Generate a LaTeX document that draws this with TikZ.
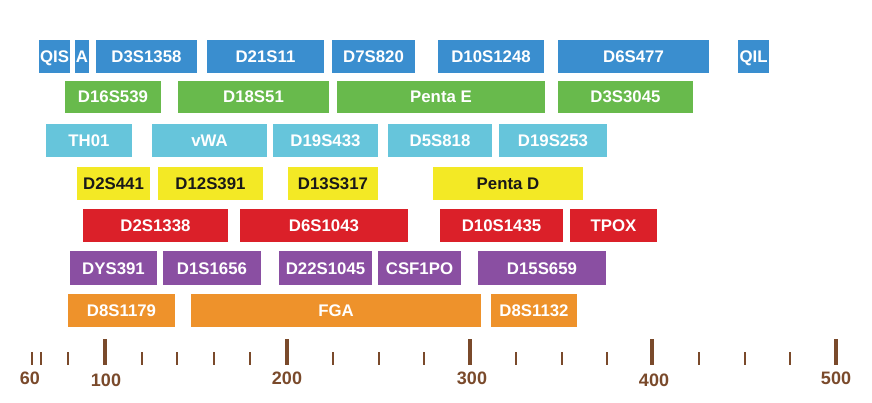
\documentclass[tikz,border=0pt]{standalone}
\usepackage{fontspec}
\setmainfont{Liberation Sans}
\definecolor{cblue}{HTML}{3A8ECF}
\definecolor{cgreen}{HTML}{68BA4C}
\definecolor{clight}{HTML}{66C5DB}
\definecolor{cyellow}{HTML}{F3E925}
\definecolor{cred}{HTML}{DB2029}
\definecolor{cpurple}{HTML}{8A4FA2}
\definecolor{corange}{HTML}{EE922B}
\definecolor{cbrown}{HTML}{7A4A2B}
\tikzset{
  locus/.style={inner sep=0pt, outer sep=0pt, font=\fontsize{16.8}{17}\selectfont\bfseries, text=white,
    text height=12pt, text depth=0pt},
  tickmaj/.style={draw=cbrown, line width=3.2pt},
  tickmin/.style={draw=cbrown, line width=1.6pt},
  axlab/.style={font=\fontsize{18}{18}\selectfont\bfseries, text=cbrown, inner sep=0pt,
    text height=12.9pt, text depth=0pt}
}
% \lbox{name}{x1}{y1}{x2}{y2}{colour}{text}
\newcommand{\lbox}[7]{%
  \pgfmathsetmacro{\bw}{#4-#2}\pgfmathsetmacro{\bh}{#5-#3}%
  \node[locus, fill=#6, minimum width=\bw pt, minimum height=\bh pt] (#1) at ({(#2+#4)/2},{(#3+#5)/2}) {#7};}
\newcommand{\ybox}[6]{%
  \pgfmathsetmacro{\bw}{#4-#2}\pgfmathsetmacro{\bh}{#5-#3}%
  \node[locus, fill=cyellow, text=black!90, minimum width=\bw pt, minimum height=\bh pt] (#1) at ({(#2+#4)/2},{(#3+#5)/2}) {#6};}
\begin{document}
\begin{tikzpicture}[x=1pt,y=-1pt]
\useasboundingbox[fill=white] (0,0) rectangle (872,403);
% row 1
\lbox{qis}{39}{40}{70}{73}{cblue}{QIS}
\lbox{a}{75}{40}{89}{73}{cblue}{A}
\lbox{d3s1358}{96}{40}{197}{73}{cblue}{D3S1358}
\lbox{d21s11}{207}{40}{324}{73}{cblue}{D21S11}
\lbox{d7s820}{332}{40}{415}{73}{cblue}{D7S820}
\lbox{d10s1248}{438}{40}{544}{73}{cblue}{D10S1248}
\lbox{d6s477}{558}{40}{709}{73}{cblue}{D6S477}
\lbox{qil}{738}{40}{769}{73}{cblue}{QIL}
% row 2
\lbox{d16s539}{65}{81}{161}{113}{cgreen}{D16S539}
\lbox{d18s51}{178}{81}{329}{113}{cgreen}{D18S51}
\lbox{pentae}{337}{81}{545}{113}{cgreen}{Penta E}
\lbox{d3s3045}{558}{81}{693}{113}{cgreen}{D3S3045}
% row 3
\lbox{th01}{46}{124}{132}{157}{clight}{TH01}
\lbox{vwa}{152}{124}{267}{157}{clight}{vWA}
\lbox{d19s433}{273}{124}{378}{157}{clight}{D19S433}
\lbox{d5s818}{388}{124}{492}{157}{clight}{D5S818}
\lbox{d19s253}{499}{124}{607}{157}{clight}{D19S253}
% row 4
\ybox{d2s441}{77}{167}{150}{200}{D2S441}
\ybox{d12s391}{158}{167}{263}{200}{D12S391}
\ybox{d13s317}{288}{167}{378}{200}{D13S317}
\ybox{pentad}{433}{167}{583}{200}{Penta D}
% row 5
\lbox{d2s1338}{83}{209}{228}{242}{cred}{D2S1338}
\lbox{d6s1043}{240}{209}{408}{242}{cred}{D6S1043}
\lbox{d10s1435}{440}{209}{563}{242}{cred}{D10S1435}
\lbox{tpox}{570}{209}{657}{242}{cred}{TPOX}
% row 6
\lbox{dys391}{70}{251}{157}{285}{cpurple}{DYS391}
\lbox{d1s1656}{163}{251}{261}{285}{cpurple}{D1S1656}
\lbox{d22s1045}{279}{251}{372}{285}{cpurple}{D22S1045}
\lbox{csf1po}{378}{251}{461}{285}{cpurple}{CSF1PO}
\lbox{d15s659}{478}{251}{606}{285}{cpurple}{D15S659}
% row 7
\lbox{d8s1179}{68}{294}{175}{327}{corange}{D8S1179}
\lbox{fga}{191}{294}{481}{327}{corange}{FGA}
\lbox{d8s1132}{491}{294}{577}{327}{corange}{D8S1132}
% axis ticks
\foreach \x in {105,287,470,652,836} \draw[tickmaj] (\x,339) -- (\x,365);
\foreach \x in {32,41,68,142,177,214,250,333,379,424,516,562,607,699,745,790} \draw[tickmin] (\x,352) -- (\x,365);
% axis labels
\node[axlab] (l60) at (30,378) {60};
\node[axlab] (l100) at (106,380) {100};
\node[axlab] (l200) at (287,378) {200};
\node[axlab] (l300) at (472,378) {300};
\node[axlab] (l400) at (654,380) {400};
\node[axlab] (l500) at (836,378) {500};
\end{tikzpicture}
\end{document}
